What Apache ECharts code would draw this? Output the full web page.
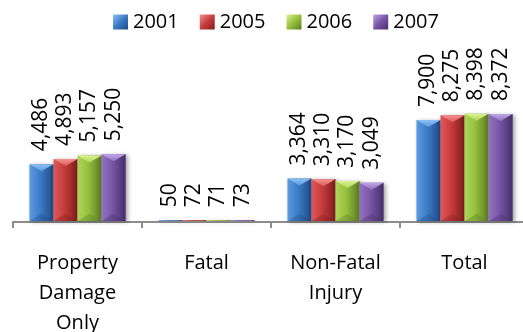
<!DOCTYPE html>
<html>
<head>
<meta charset="utf-8">
<script src="https://cdn.jsdelivr.net/npm/echarts@6/dist/echarts.min.js"></script>
<style>
  html, body { margin: 0; padding: 0; background: #ffffff; }
  #chart { width: 523px; height: 332px; }
</style>
</head>
<body>
<div id="chart"></div>
<script>
// Crash counts by severity and year
const categories = ['Property\nDamage\nOnly', 'Fatal', 'Non-Fatal\nInjury', 'Total'];
const years = ['2001', '2005', '2006', '2007'];
const values2001 = [4486, 50, 3364, 7900];
const values2005 = [4893, 72, 3310, 8275];
const values2006 = [5157, 71, 3170, 8398];
const values2007 = [5250, 73, 3049, 8372];

const seriesValues = [values2001, values2005, values2006, values2007];

// Bevelled bar palette: face, highlight, shadow, left edge
const palette = [
  { face: '#3B7BC6', light: '#8CC0F2', dark: '#1F4A85', edge: '#5C9BE0' },
  { face: '#C73A3A', light: '#F49290', dark: '#7E1E1E', edge: '#DD5A5A' },
  { face: '#95C03C', light: '#DAF291', dark: '#5C7C24', edge: '#AED659' },
  { face: '#7955A5', light: '#BEA6E6', dark: '#47306A', edge: '#9373C2' }
];

const FONT = '"Open Sans", "DejaVu Sans", sans-serif';
const GROUP_FRACTION = 0.745;   // share of each category band covered by its bars

function fmt(v) {
  return v.toLocaleString('en-US');
}

function makeRender(seriesIdx) {
  const c = palette[seriesIdx];
  return function (params, api) {
    const cat = api.value(0);
    const val = api.value(1);
    const top = api.coord([cat, val]);
    const base = api.coord([cat, 0]);
    const band = api.size([1, 0])[0];
    const group = band * GROUP_FRACTION;
    const w = group / years.length;
    const x0 = top[0] - group / 2 + seriesIdx * w;
    const x1 = x0 + w;
    const xm = (x0 + x1) / 2;
    const y0 = top[1];
    const y1 = base[1] - 1;
    const h = Math.max(y1 - y0, 0.8);
    const t = Math.min(7, h / 2);
    const side = Math.min(3, w / 6);

    const children = [
      {
        type: 'rect',
        shape: { x: x0, y: y1 - h, width: w, height: h },
        style: {
          fill: new echarts.graphic.LinearGradient(0, 0, 1, 0, [
            { offset: 0, color: c.edge },
            { offset: 0.45, color: c.face },
            { offset: 1, color: c.dark }
          ]),
          shadowColor: 'rgba(0,0,0,0.35)',
          shadowBlur: 4,
          shadowOffsetX: 2,
          shadowOffsetY: 1
        }
      },
      {
        type: 'polygon',
        shape: { points: [[x0, y1 - h], [x1, y1 - h], [xm, y1 - h + t]] },
        style: {
          fill: new echarts.graphic.LinearGradient(0, 0, 0, 1, [
            { offset: 0, color: c.light },
            { offset: 1, color: c.edge }
          ])
        }
      },
      {
        type: 'polygon',
        shape: { points: [[x0, y1], [x1, y1], [xm, y1 - t]] },
        style: { fill: c.dark, opacity: 0.35 }
      },
      {
        type: 'polygon',
        shape: { points: [[x1 - side, y1 - h + t * 0.4], [x1, y1 - h], [x1, y1], [x1 - side, y1 - t * 0.4]] },
        style: { fill: c.dark, opacity: 0.45 }
      },
      {
        type: 'text',
        x: xm,
        y: y1 - h - 13,
        rotation: Math.PI / 2,
        style: {
          text: fmt(val),
          fill: '#000000',
          font: '21px ' + FONT,
          align: 'left',
          verticalAlign: 'middle'
        }
      }
    ];
    return { type: 'group', children: children };
  };
}

const chart = echarts.init(document.getElementById('chart'), null, { renderer: 'canvas' });

const series = years.map(function (year, i) {
  return {
    name: year,
    type: 'custom',
    renderItem: makeRender(i),
    encode: { x: 0, y: 1 },
    itemStyle: {
      color: new echarts.graphic.LinearGradient(0, 0, 1, 1, [
        { offset: 0, color: palette[i].light },
        { offset: 0.5, color: palette[i].face },
        { offset: 1, color: palette[i].dark }
      ])
    },
    clip: false,
    data: seriesValues[i].map(function (v, k) { return [k, v]; })
  };
});

chart.setOption({
  animation: false,
  backgroundColor: '#ffffff',
  legend: {
    data: years,
    left: 113,
    top: 12,
    padding: 0,
    icon: 'rect',
    itemWidth: 15,
    itemHeight: 15,
    itemGap: 21,
    textStyle: { fontFamily: FONT, fontSize: 20, color: '#000000', padding: [0, 0, 0, 0] }
  },
  grid: { left: 13, right: -6, top: 93, bottom: 110, containLabel: false, outerBoundsMode: 'none' },
  xAxis: {
    type: 'category',
    data: categories,
    boundaryGap: true,
    axisLine: { show: true, lineStyle: { color: '#8C8C8C', width: 2 } },
    axisTick: { show: true, length: 6, alignWithLabel: false, lineStyle: { color: '#8C8C8C', width: 2 } },
    axisLabel: {
      interval: 0,
      margin: 26,
      fontFamily: FONT,
      fontSize: 20,
      lineHeight: 30,
      color: '#000000',
      align: 'center'
    }
  },
  yAxis: {
    type: 'value',
    min: 0,
    max: 10000,
    show: false,
    splitLine: { show: false }
  },
  series: series
});
</script>
</body>
</html>
